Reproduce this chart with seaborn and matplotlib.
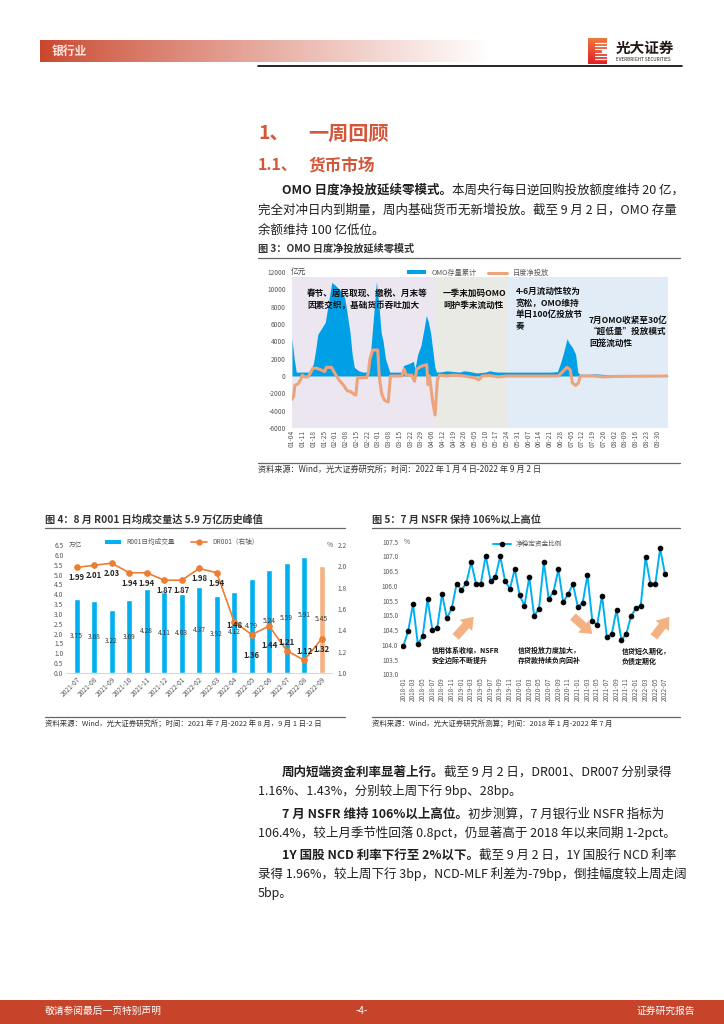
import re
import numpy as np
import pandas as pd
import matplotlib
matplotlib.use('Agg')
import matplotlib.pyplot as plt
import seaborn as sns
from matplotlib.patches import Rectangle, Patch
from matplotlib.lines import Line2D

# ---------------------------------------------------------------- data
# 图3: OMO (trading-day index counted from 2022-01-04)
omo_day = [0, 1, 2, 8, 9, 10, 11, 12, 13, 14, 15.5, 17, 18.5, 20, 22, 23.5, 24.5, 25.5, 27, 28,
           29, 31, 33, 35.5, 36.5, 37.5, 38.5, 39.3, 40.5, 41.5, 42.4, 43.5, 45.5, 51.7, 51.8, 53,
           55, 56.5, 57.2, 58.5, 60, 61.5, 62.5, 63.5, 64.5, 65.5, 66.5, 67.3, 70, 72, 74, 76, 78,
           80, 82, 84, 86, 88, 90, 92, 94, 96, 100, 110, 120, 123.5, 125, 126.5, 128, 129, 130.5,
           132, 133, 134, 138, 141, 144, 147, 150, 175]
omo_stock = [4300, 2000, 450, 450, 800, 1500, 3000, 4800, 5200, 5600, 6200, 8500, 10800, 10500,
             10000, 9500, 9000, 7500, 5000, 2500, 1000, 600, 450, 450, 2500, 5500, 8500, 10900,
             8000, 5000, 4000, 2000, 450, 450, 1200, 1300, 1500, 1700, 800, 2500, 3500, 5500,
             7000, 6200, 5000, 3000, 1000, 450, 500, 600, 550, 500, 450, 600, 550, 450, 350, 400,
             450, 600, 500, 450, 450, 450, 450, 500, 1500, 2800, 4300, 3800, 3300, 2500, 450,
             200, 200, 250, 200, 150, 80, 80]
net_day = [0, 0.8, 1.3, 2.8, 3.9, 4.8, 5.9, 7.4, 8.5, 9.7, 11.3, 13.6, 15.2, 16, 18.4, 19.5, 20.7,
           22, 23.8, 25.7, 27.3, 28.8, 29.7, 30.5, 34.7, 35.5, 36.3, 37.6, 39.9, 40.6, 41.7, 43,
           44.8, 45.8, 51.1, 52.2, 53.1, 55.7, 57, 58.1, 60, 61.2, 62.7, 63.3, 64, 65.5, 66.6,
           67.7, 68.7, 72, 75, 80, 85, 87, 88.5, 92, 96, 100, 110, 120, 124, 126, 128, 129.5,
           130.5, 132, 133.3, 134.2, 140, 145, 150, 175]
net_inj = [-2700, -2300, -1100, -900, -500, 100, -100, -100, 300, 900, 900, 700, 500, 1000, 1000,
           500, 0, -500, -1000, -1700, -1800, -2100, -2200, -200, -200, 300, 2000, 3000, 3000, 0,
           -2000, -2800, -3000, 0, 0, 800, 100, 100, -600, 800, 1100, 1200, 1300, -1000, 0,
           -3000, -4500, -300, 100, 0, 100, 0, -200, -450, 0, 50, -100, 0, 0, 0, 0, 500, 1000,
           700, -800, -1100, -800, 0, 0, -100, -50, 0]
omo_tick_labels = ['01-04', '01-11', '01-18', '01-25', '02-01', '02-08', '02-15', '02-22',
                   '03-01', '03-08', '03-15', '03-22', '03-29', '04-06', '04-12', '04-19',
                   '04-26', '05-05', '05-10', '05-17', '05-24', '05-31', '06-07', '06-14',
                   '06-21', '06-28', '07-05', '07-12', '07-19', '07-26', '08-02', '08-09',
                   '08-16', '08-23', '08-30']
phase_bounds = [0, 67, 100, 175]

# 图4: R001 / DR001
r001_months = ['2021-07', '2021-08', '2021-09', '2021-10', '2021-11', '2021-12', '2022-01',
               '2022-02', '2022-03', '2022-04', '2022-05', '2022-06', '2022-07', '2022-08',
               '2022-09']
r001_volume = [3.75, 3.68, 3.22, 3.69, 4.28, 4.11, 4.03, 4.37, 3.92, 4.12, 4.79, 5.24, 5.59,
               5.91, 5.45]
dr001_rate = [1.99, 2.01, 2.03, 1.94, 1.94, 1.87, 1.87, 1.98, 1.94, 1.48, 1.36, 1.44, 1.21,
              1.12, 1.32]

# 图5: NSFR, monthly 2018-01 .. 2022-07
nsfr = [103.95, 104.47, 105.38, 104.02, 104.30, 105.55, 104.50, 104.58, 105.72, 104.90,
        105.24, 106.07, 105.86, 106.10, 106.80, 106.07, 106.08, 107.03, 106.17, 106.30,
        107.00, 106.17, 105.90, 106.57, 105.68, 105.33, 106.30, 104.98, 105.23, 106.80,
        105.56, 105.80, 106.56, 105.44, 105.72, 106.06, 105.30, 105.41, 106.37, 104.81,
        104.67, 105.67, 104.28, 104.36, 105.19, 104.17, 104.36, 104.98, 105.24, 105.33,
        106.97, 106.07, 106.05, 107.27, 106.40]
nsfr_months = [str(p) for p in pd.period_range('2018-01', '2022-07', freq='M')]

# ---------------------------------------------------------------- setup
sns.set_theme(style='white')
plt.rcParams['font.family'] = ['Noto Sans CJK SC', 'DejaVu Sans']
plt.rcParams['axes.unicode_minus'] = False

W, H = 724, 1024
fig = plt.figure(figsize=(7.24, 10.24), dpi=100)
fig.patch.set_facecolor('white')
renderer = fig.canvas.get_renderer()

TXT = '#1f1f1f'
TICK = '#595959'
RED = '#d3573b'


def T(x, y, s, size=9, weight='normal', color=TXT, ha='left', va='center', **kw):
    return fig.text(x / W, 1 - y / H, s, fontsize=size, fontweight=weight, color=color,
                    ha=ha, va=va, **kw)


def hline(x0, x1, y, color='#595959', lw=0.8):
    fig.add_artist(Line2D([x0 / W, x1 / W], [1 - y / H, 1 - y / H], color=color, lw=lw,
                          transform=fig.transFigure))


def rich(x, y, parts, size=9):
    cur = x
    for s, wt in parts:
        t = T(cur, y, s, size=size, weight=wt)
        cur += t.get_window_extent(renderer).width


def axes_px(x0, y0, x1, y1):
    return fig.add_axes([x0 / W, 1 - y1 / H, (x1 - x0) / W, (y1 - y0) / H])


# ---------------------------------------------------------------- header
hax = axes_px(40, 40, 490, 62)
t = np.linspace(0, 1, 300)
c0 = np.array([201, 70, 44]) / 255.0
mix = np.clip(t ** 0.85, 0, 1)[:, None]
grad = c0 * (1 - mix) + 1.0 * mix
hax.imshow(grad[None, :, :], aspect='auto', extent=[0, 1, 0, 1])
hax.axis('off')
T(52, 51.5, '银行业', size=8.5, weight='bold', color='#fde6de')
hline(258, 682, 66, color='black', lw=1.2)

# logo
lax = axes_px(588, 38, 607, 64)
lg = np.linspace(0, 1, 100)[:, None]
top = np.array([240, 120, 60]) / 255.0
bot = np.array([226, 30, 36]) / 255.0
lgrad = top * (1 - lg) + bot * lg
lax.imshow(lgrad[:, None, :], aspect='auto', extent=[0, 1, 0, 1])
for yy in [0.2, 0.32, 0.44, 0.56, 0.68, 0.8]:
    lax.plot([0.35, 1.0], [yy, yy], color='white', lw=0.9)
lax.add_patch(Rectangle((0.75, 0.45), 0.3, 0.1, color='white'))
lax.set_xlim(0, 1)
lax.set_ylim(0, 1)
lax.axis('off')
T(616, 47.5, '光大证券', size=10.5, weight='bold', color='#231815')
T(616, 59.5, 'EVERBRIGHT SECURITIES', size=3.3, color='#231815')

# ---------------------------------------------------------------- headings and text
T(258, 133, '1、', size=14, weight='bold', color=RED)
T(308, 133, '一周回顾', size=14.5, weight='bold', color=RED)
T(258, 165, '1.1、', size=11.5, weight='bold', color=RED)
T(308, 165, '货币市场', size=12, weight='bold', color=RED)

rich(282, 190, [('OMO 日度净投放延续零模式。', 'bold'),
                ('本周央行每日逆回购投放额度维持 20 亿，', 'normal')], size=9.0)
T(258, 210, '完全对冲日内到期量，周内基础货币无新增投放。截至 9 月 2 日，OMO 存量', size=9.0)
T(258, 230, '余额维持 100 亿低位。', size=9.0)

T(258, 249, '图 3：OMO 日度净投放延续零模式', size=7.3, weight='bold', color='#333333')
hline(258, 680, 257.5, color='#666666', lw=0.9)

# ---------------------------------------------------------------- chart 1 (OMO)
ax1 = axes_px(292, 272, 668, 428)
phase_colors = ['#ece6f1', '#e8eae3', '#e1ecf6']
for a, b, c in zip(phase_bounds[:-1], phase_bounds[1:], phase_colors):
    ax1.fill_between([a, b], -6000, 11400, color=c, lw=0, zorder=0)
ax1.fill_between(omo_day, 0, omo_stock, color='#00a0e6', lw=0, zorder=2)
sns.lineplot(x=net_day, y=net_inj, ax=ax1, color='#eda47c', lw=2.2, zorder=3, sort=False,
             legend=False)
ax1.set_xlim(0, 175)
ax1.set_ylim(-6000, 12000)
ax1.set_yticks(range(-6000, 12001, 2000))
ax1.set_yticklabels([str(v) for v in range(-6000, 12001, 2000)])
ax1.set_xticks(np.arange(len(omo_tick_labels)) * 5)
ax1.set_xticklabels(omo_tick_labels, rotation=90)
ax1.tick_params(axis='y', labelsize=4.8, colors=TICK, pad=4.5, length=0)
ax1.tick_params(axis='x', labelsize=4.8, colors=TICK, pad=1.5, length=0)
for s in ax1.spines.values():
    s.set_visible(False)
ax1.set_xlabel('')
ax1.set_ylabel('')
ax1.patch.set_alpha(0)
T(291, 272, '亿元', size=5.5, color='#404040')
h1 = [Patch(facecolor='#00a0e6', edgecolor='none'), Line2D([], [], color='#eda47c', lw=2.2)]
ax1.legend(h1, ['OMO存量累计', '日度净投放'], loc='center', ncol=2, frameon=False,
           bbox_to_anchor=(478 / W, 1 - 273 / H), bbox_transform=fig.transFigure,
           fontsize=5.2, handlelength=2.6, handleheight=0.5, columnspacing=1.5,
           labelcolor='#595959')

A = dict(size=6.2, weight='bold', color='#111111')
T(307, 293, '春节、居民取现、缴税、月末等', **A)
T(307, 305, '因素交织，基础货币吞吐加大', **A)
T(443, 293, '一季末加码OMO', **A)
T(443, 305, '呵护季末流动性', **A)
T(516, 291.5, '4-6月流动性较为', **A)
T(516, 303, '宽松，OMO维持', **A)
T(516, 314.5, '单日100亿投放节', **A)
T(516, 326, '奏', **A)
T(589, 320, '7月OMO收紧至30亿', **A)
T(589, 331.5, '“超低量”投放模式', **A)
T(589, 343, '回笼流动性', **A)

hline(258, 680, 462.5, color='#666666', lw=0.9)
T(258, 469, '资料来源：Wind，光大证券研究所；时间：2022 年 1 月 4 日-2022 年 9 月 2 日',
  size=5.9, color='#333333')

# ---------------------------------------------------------------- chart 2 (R001)
T(45, 520, '图 4：8 月 R001 日均成交量达 5.9 万亿历史峰值', size=7.3, weight='bold',
  color='#333333')
hline(45, 345, 528, color='#666666', lw=0.9)

ax2 = axes_px(66.2, 545, 332.2, 673)
bar_colors = ['#00b0f0'] * 14 + ['#f4b183']
sns.barplot(x=r001_months, y=r001_volume, hue=r001_months, palette=bar_colors, legend=False,
            width=0.33, saturation=1, ax=ax2)
ax2.set_xlim(-0.6, 14.6)
ax2.set_ylim(0, 6.5)
ax2.set_yticks(np.arange(0, 6.51, 0.5))
ax2.set_yticklabels([f'{v:.1f}' for v in np.arange(0, 6.51, 0.5)])
ax2.set_xticks(range(len(r001_months)))
ax2.set_xticklabels(r001_months, rotation=45, ha='right', rotation_mode='anchor')
ax2.tick_params(axis='both', labelsize=4.8, colors=TICK, pad=2, length=0)
for k, s in ax2.spines.items():
    s.set_visible(k == 'bottom')
ax2.spines['bottom'].set_color('#d0d0d0')
ax2.spines['bottom'].set_linewidth(0.6)
ax2.set_xlabel('')
ax2.set_ylabel('')
for i, v in enumerate(r001_volume):
    ax2.text(i, v / 2, f'{v:.2f}', ha='center', va='center', fontsize=4.8, color='#3a3a3a')

ax2r = ax2.twinx()
sns.lineplot(x=r001_months, y=dr001_rate, ax=ax2r, color='#ed7d31', lw=1.2, marker='o',
             markersize=4, markeredgecolor='#ed7d31', legend=False)
ax2r.set_ylim(1.0, 2.2)
ax2r.set_yticks(np.arange(1.0, 2.21, 0.2))
ax2r.set_yticklabels([f'{v:.1f}' for v in np.arange(1.0, 2.21, 0.2)])
ax2r.tick_params(axis='y', labelsize=4.8, colors=TICK, pad=4, length=0)
for s in ax2r.spines.values():
    s.set_visible(False)
ax2r.set_ylabel('')
ax2r.set_xlabel('')
ax2.set_xlim(-0.6, 14.6)
dr_label_dy = [-7.5] * 9 + [-2.5, -15, -14, 6, 6, -8]
for i, (v, dy) in enumerate(zip(dr001_rate, dr_label_dy)):
    ax2r.annotate(f'{v:.2f}', (i, v), xytext=(0, dy), textcoords='offset points', ha='center',
                  va='center', fontsize=5.6, fontweight='bold', color='#262626')
T(69, 545, '万亿', size=4.8, color=TICK)
T(327, 545, '%', size=4.8, color=TICK)
h2 = [Patch(facecolor='#00b0f0', edgecolor='none'),
      Line2D([], [], color='#ed7d31', lw=1.2, marker='o', markersize=3.5)]
ax2.legend(h2, ['R001日均成交量', 'DR001（右轴）'], loc='center', ncol=2, frameon=False,
           bbox_to_anchor=(182 / W, 1 - 542 / H), bbox_transform=fig.transFigure,
           fontsize=4.8, handlelength=2.4, handleheight=0.5, columnspacing=2.5,
           labelcolor='#595959')

hline(45, 345, 716.5, color='#666666', lw=0.9)
T(45, 724, '资料来源：Wind，光大证券研究所；时间：2021 年 7 月-2022 年 8 月，9 月 1 日-2 日',
  size=5.3, color='#333333')

# ---------------------------------------------------------------- chart 3 (NSFR)
T(372, 520, '图 5：7 月 NSFR 保持 106%以上高位', size=7.3, weight='bold', color='#333333')
hline(372, 680, 528, color='#666666', lw=0.9)

ax3 = axes_px(400.9, 541.7, 667.4, 674.3)
sns.lineplot(x=np.arange(len(nsfr)), y=nsfr, ax=ax3, color='#00b0f0', lw=1.4, marker='o',
             markersize=3.3, markerfacecolor='black', markeredgecolor='black', legend=False)
ax3.set_xlim(-0.5, len(nsfr) - 0.5)
ax3.set_ylim(103.0, 107.5)
ax3.set_yticks(np.arange(103.0, 107.51, 0.5))
ax3.set_yticklabels([f'{v:.1f}' for v in np.arange(103.0, 107.51, 0.5)])
ax3.set_xticks(range(0, len(nsfr), 2))
ax3.set_xticklabels(nsfr_months[::2], rotation=90)
ax3.tick_params(axis='both', labelsize=4.6, colors=TICK, pad=2, length=0)
for s in ax3.spines.values():
    s.set_visible(False)
ax3.set_xlabel('')
ax3.set_ylabel('')
T(404, 541.5, '%', size=4.8, color=TICK)
h3 = [Line2D([], [], color='#00b0f0', lw=1.4, marker='o', markersize=3,
             markerfacecolor='black', markeredgecolor='black')]
ax3.legend(h3, ['净稳定资金比例'], loc='center', frameon=False,
           bbox_to_anchor=(528 / W, 1 - 544 / H), bbox_transform=fig.transFigure,
           fontsize=4.8, handlelength=2.6, labelcolor='#595959')

arrow_kw = dict(arrowstyle='simple,head_length=0.75,head_width=1.1,tail_width=0.55',
                color='#f4b183', mutation_scale=11, lw=0, shrinkA=0, shrinkB=0)
for (xa, ya), (xb, yb) in [((10.8, 104.27), (14.5, 104.95)),
                           ((35.0, 104.96), (39.0, 104.37)),
                           ((51.7, 104.27), (54.9, 104.95))]:
    ax3.annotate('', xy=(xb, yb), xytext=(xa, ya), arrowprops=arrow_kw, annotation_clip=False)

B = dict(size=5.0, weight='bold', color='#111111')
T(431.5, 650.5, '信用体系收缩，NSFR', **B)
T(431.5, 660.5, '安全边际不断提升', **B)
T(517.5, 650.5, '信贷投放力度加大，', **B)
T(517.5, 660.5, '存贷款持续负向回补', **B)
T(622, 651, '信贷短久期化，', **B)
T(622, 661, '负债定期化', **B)

hline(372, 680, 716.5, color='#666666', lw=0.9)
T(372, 724, '资料来源：Wind，光大证券研究所测算；时间：2018 年 1 月-2022 年 7 月',
  size=5.3, color='#333333')

# ---------------------------------------------------------------- bottom paragraphs
rich(282, 772, [('周内短端资金利率显著上行。', 'bold'),
                ('截至 9 月 2 日，DR001、DR007 分别录得', 'normal')], size=9.0)
T(258, 791, '1.16%、1.43%，分别较上周下行 9bp、28bp。', size=9.0)
rich(282, 814, [('7 月 NSFR 维持 106%以上高位。', 'bold'),
                ('初步测算，7 月银行业 NSFR 指标为', 'normal')], size=9.0)
T(258, 833, '106.4%，较上月季节性回落 0.8pct，仍显著高于 2018 年以来同期 1-2pct。', size=9.0)
rich(282, 855, [('1Y 国股 NCD 利率下行至 2%以下。', 'bold'),
                ('截至 9 月 2 日，1Y 国股行 NCD 利率', 'normal')], size=9.0)
T(258, 874, '录得 1.96%，较上周下行 3bp，NCD-MLF 利差为-79bp，倒挂幅度较上周走阔', size=9.0)
T(258, 893, '5bp。', size=9.0)

# ---------------------------------------------------------------- footer
fig.add_artist(Rectangle((0, 0), 1, 24 / H, transform=fig.transFigure, color='#c7442a', lw=0))
T(45, 1011, '敬请参阅最后一页特别声明', size=7, color='white')
T(362, 1011, '-4-', size=7, color='white', ha='center')
T(695, 1011, '证券研究报告', size=7, color='white', ha='right')

fig.savefig('out.png', dpi=100, facecolor='white')
